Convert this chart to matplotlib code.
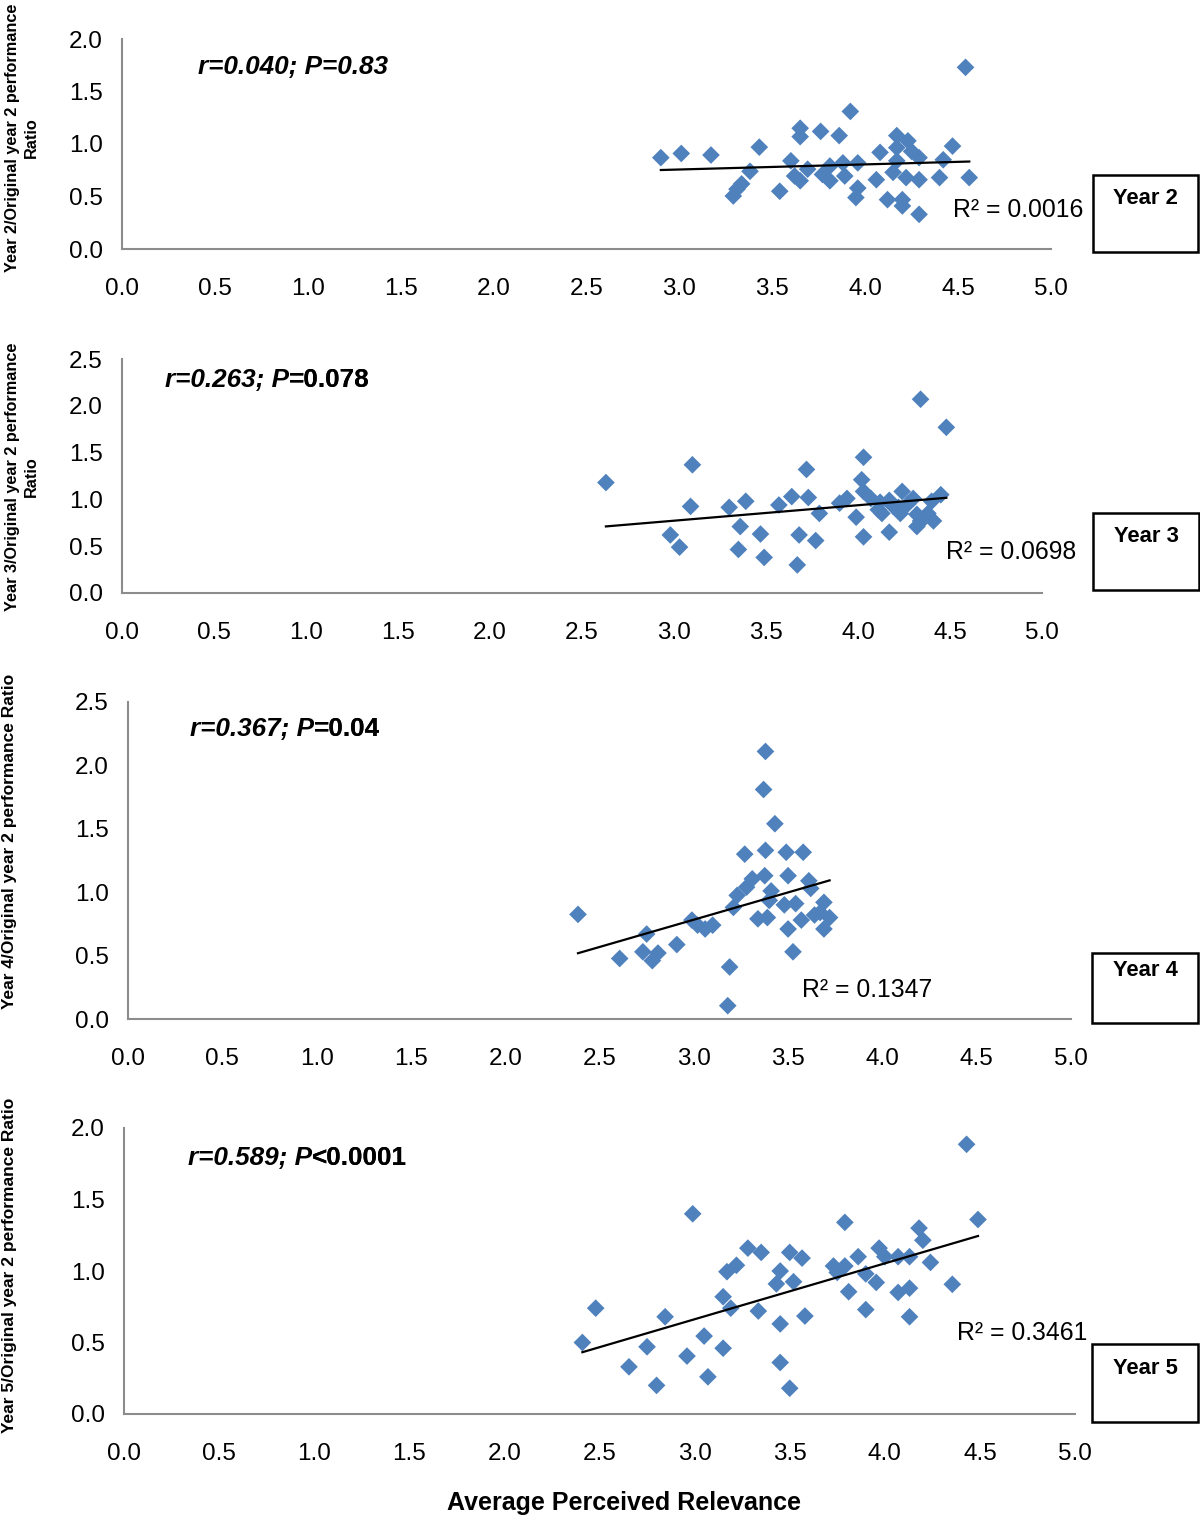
import matplotlib
matplotlib.use("Agg")
import matplotlib.pyplot as plt
import numpy as np
from matplotlib.patches import Rectangle

plt.rcParams['font.family'] = ['Liberation Sans', 'DejaVu Sans']

# ---------------- data ----------------
x_tick_labels = ["0.0", "0.5", "1.0", "1.5", "2.0", "2.5", "3.0", "3.5", "4.0", "4.5", "5.0"]

y2_x = [2.90, 3.01, 3.17, 3.43, 3.38, 3.335, 3.31, 3.29, 3.54, 3.60, 3.62, 3.65, 3.65, 3.65,
        3.76, 3.69, 3.77, 3.81, 3.81, 3.86, 3.88, 3.89, 3.92, 3.96, 3.96, 3.95, 4.06, 4.08,
        4.12, 4.15, 4.17, 4.17, 4.17, 4.20, 4.20, 4.23, 4.25, 4.22, 4.29, 4.29, 4.29, 4.40,
        4.42, 4.47, 4.54, 4.56]
y2_y = [0.87, 0.91, 0.895, 0.97, 0.74, 0.62, 0.57, 0.505, 0.55, 0.84, 0.695, 0.65, 1.15, 1.07,
        1.12, 0.76, 0.71, 0.79, 0.65, 1.08, 0.82, 0.695, 1.31, 0.82, 0.58, 0.49, 0.66, 0.92,
        0.47, 0.73, 1.08, 0.965, 0.84, 0.47, 0.41, 1.03, 0.93, 0.68, 0.87, 0.66, 0.33, 0.68,
        0.85, 0.98, 1.73, 0.68]

y3_x = [2.63, 3.10, 3.09, 2.98, 3.03, 3.30, 3.39, 3.36, 3.35, 3.47, 3.49, 3.57, 3.64, 3.72,
        3.73, 3.68, 3.77, 3.79, 3.67, 3.90, 3.94, 3.99, 4.03, 4.02, 4.03, 4.03, 4.07, 4.11,
        4.13, 4.17, 4.17, 4.22, 4.24, 4.23, 4.30, 4.32, 4.32, 4.34, 4.38, 4.40, 4.41, 4.45,
        4.34, 4.48, 4.36, 4.12, 4.19, 4.27]
y3_y = [1.18, 1.37, 0.925, 0.62, 0.49, 0.915, 0.98, 0.71, 0.465, 0.63, 0.38, 0.94, 1.03, 1.32,
        1.02, 0.62, 0.56, 0.85, 0.30, 0.96, 1.01, 0.81, 1.45, 1.21, 1.085, 0.60, 1.01, 0.89,
        0.85, 0.65, 0.99, 0.915, 1.085, 0.85, 1.01, 0.84, 0.71, 0.77, 0.85, 0.98, 0.77, 1.05,
        2.07, 1.77, 0.80, 0.97, 0.93, 0.95]

y4_x = [2.386, 2.607, 2.75, 2.73, 2.78, 2.81, 2.91, 2.99, 3.02, 3.06, 3.10, 3.19, 3.18, 3.21,
        3.23, 3.27, 3.28, 3.31, 3.34, 3.376, 3.38, 3.39, 3.38, 3.37, 3.43, 3.41, 3.40, 3.49,
        3.50, 3.48, 3.50, 3.526, 3.54, 3.58, 3.57, 3.61, 3.62, 3.64, 3.67, 3.69, 3.69, 3.72]
y4_y = [0.825, 0.477, 0.67, 0.53, 0.46, 0.52, 0.587, 0.78, 0.74, 0.71, 0.74, 0.41, 0.105, 0.88,
        0.975, 1.30, 1.04, 1.105, 0.79, 1.13, 1.33, 0.80, 2.11, 1.81, 1.54, 1.01, 0.935, 1.315,
        1.13, 0.90, 0.71, 0.53, 0.91, 1.315, 0.78, 1.09, 1.03, 0.82, 0.84, 0.92, 0.71, 0.80]

y5_x = [2.41, 2.48, 2.655, 2.75, 2.80, 2.845, 2.96, 2.99, 3.05, 3.07, 3.15, 3.15, 3.19, 3.17,
        3.22, 3.28, 3.35, 3.335, 3.45, 3.43, 3.45, 3.45, 3.50, 3.50, 3.52, 3.565, 3.58, 3.73,
        3.75, 3.79, 3.79, 3.81, 3.86, 3.90, 3.90, 3.955, 3.97, 4.00, 4.07, 4.07, 4.13, 4.13,
        4.13, 4.18, 4.20, 4.24, 4.355, 4.43, 4.49]
y5_y = [0.50, 0.74, 0.33, 0.47, 0.20, 0.68, 0.405, 1.40, 0.545, 0.26, 0.46, 0.82, 0.74, 0.995,
        1.04, 1.16, 1.13, 0.72, 1.00, 0.91, 0.63, 0.36, 0.18, 1.13, 0.925, 1.09, 0.685, 1.035,
        0.99, 1.035, 1.34, 0.855, 1.10, 0.98, 0.73, 0.92, 1.16, 1.10, 1.10, 0.85, 1.10, 0.88,
        0.68, 1.30, 1.215, 1.06, 0.907, 1.886, 1.36]

panels = [
    dict(x=y2_x, y=y2_y, ymax=2.0, yticks=["0.0", "0.5", "1.0", "1.5", "2.0"],
         ylabel="Year 2/Original year 2 performance\nRatio",
         r_it="r=0.040; P=0.83", r_up="", r2="R² = 0.0016", year="Year 2"),
    dict(x=y3_x, y=y3_y, ymax=2.5, yticks=["0.0", "0.5", "1.0", "1.5", "2.0", "2.5"],
         ylabel="Year 3/Original year 2 performance\nRatio",
         r_it="r=0.263; P", r_up="=0.078", r2="R² = 0.0698", year="Year 3"),
    dict(x=y4_x, y=y4_y, ymax=2.5, yticks=["0.0", "0.5", "1.0", "1.5", "2.0", "2.5"],
         ylabel="Year 4/Original year 2 performance Ratio",
         r_it="r=0.367; P", r_up="=0.04", r2="R² = 0.1347", year="Year 4"),
    dict(x=y5_x, y=y5_y, ymax=2.0, yticks=["0.0", "0.5", "1.0", "1.5", "2.0"],
         ylabel="Year 5/Original year 2 performance Ratio",
         r_it="r=0.589; P", r_up="<0.0001", r2="R² = 0.3461", year="Year 5"),
]

# ---------------- layout (pixels) ----------------
W, H = 1200, 1517
fig = plt.figure(figsize=(W / 100, H / 100), dpi=100)

def fx(px):
    return px / W

def fy(py):
    return 1 - py / H

# axes boxes: left, right, top, bottom in px
ax_px = [(122, 1051, 39, 249), (122, 1042, 359, 593), (128, 1071, 702, 1019), (124, 1075, 1128, 1414)]
ylab_px = [(22, 138), (22, 477), (10, 841), (10, 1265)]
ylab_fs = [11.7, 11.7, 12.5, 12.5]
rtext_px = [(198, 67), (165, 380), (190, 729), (188, 1158)]
r2_px = [(953, 210), (946, 552), (802, 990), (957, 1333)]
box_px = [(1093, 1198, 175, 252), (1093, 1199, 513, 590), (1092, 1198, 953, 1023), (1092, 1198, 1344, 1422)]
yeartxt_py = [198, 536, 970, 1369]

blue = '#4F81BD'
axis_col = '#8c8c8c'

for i, p in enumerate(panels):
    l, r, t, b = ax_px[i]
    ax = fig.add_axes([fx(l), fy(b), fx(r - l), (b - t) / H])
    x = np.array(p['x'])
    y = np.array(p['y'])
    ax.scatter(x, y, marker='D', s=9.0 ** 2, color=blue, edgecolors='none', zorder=3)
    k, c = np.polyfit(x, y, 1)
    xs = np.array([x.min(), x.max()])
    ax.plot(xs, k * xs + c, color='black', lw=1.6, zorder=4)
    ax.set_xlim(0, 5)
    ax.set_ylim(0, p['ymax'])
    ax.set_xticks(np.arange(0, 5.01, 0.5))
    ax.set_xticklabels(x_tick_labels)
    ax.set_yticks(np.arange(0, p['ymax'] + 0.01, 0.5))
    ax.set_yticklabels(p['yticks'])
    for s in ['top', 'right']:
        ax.spines[s].set_visible(False)
    for s in ['left', 'bottom']:
        ax.spines[s].set_color(axis_col)
        ax.spines[s].set_linewidth(1.5)
    ax.tick_params(axis='x', length=0, pad=21, labelsize=17.5, colors='black')
    ax.tick_params(axis='y', length=0, pad=14, labelsize=17.5, colors='black')
    ax.patch.set_alpha(0)

    # y label
    lx, ly = ylab_px[i]
    fig.text(fx(lx), fy(ly), p['ylabel'], rotation=90, ha='center', va='center',
             multialignment='center', fontsize=ylab_fs[i], fontweight='bold', linespacing=1.3)

    # correlation text
    rx, ry = rtext_px[i]
    t1 = fig.text(fx(rx), fy(ry), p['r_it'], ha='left', va='center', fontsize=18.8,
                  fontweight='bold', style='italic')
    if p['r_up']:
        ann = plt.annotate(p['r_up'], xy=(1, 0), xycoords=t1, ha='left', va='bottom',
                           fontsize=18.8, fontweight='bold', annotation_clip=False)
        fig.add_artist(ann)

    # R^2 text
    qx, qy = r2_px[i]
    fig.text(fx(qx), fy(qy), p['r2'], ha='left', va='center', fontsize=17.8)

    # Year box
    bl, br, bt, bb = box_px[i]
    fig.patches.append(Rectangle((fx(bl), fy(bb)), fx(br - bl), (bb - bt) / H,
                                 transform=fig.transFigure, fill=False, edgecolor='black',
                                 linewidth=1.8))
    fig.text(fx((bl + br) / 2), fy(yeartxt_py[i]), p['year'], ha='center', va='center',
             fontsize=15.8, fontweight='bold')

fig.text(fx(624), fy(1503), "Average Perceived Relevance", ha='center', va='center',
         fontsize=18, fontweight='bold')

fig.savefig("out.png", dpi=100)
